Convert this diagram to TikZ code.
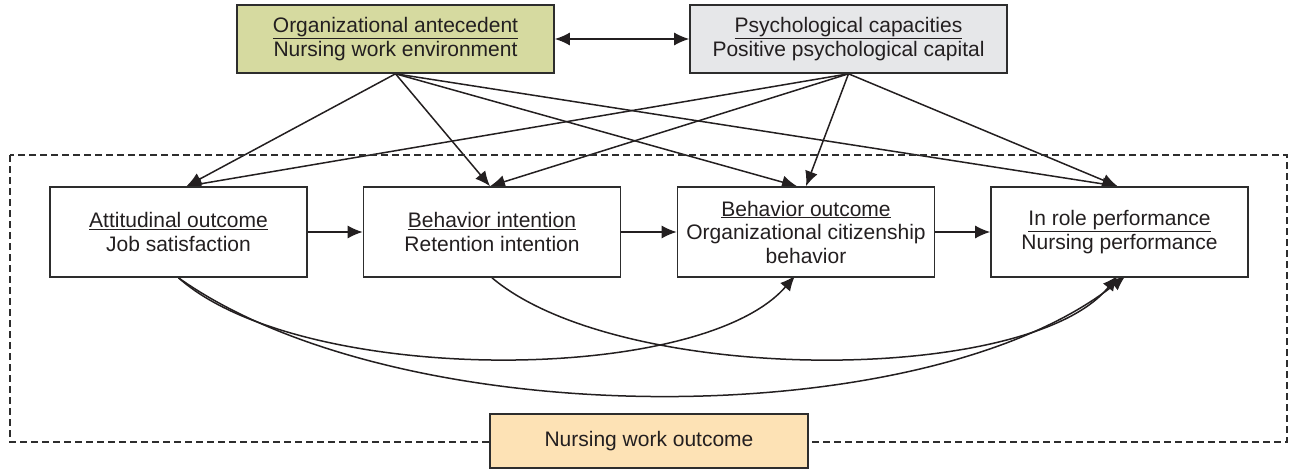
\documentclass[tikz,border=0pt]{standalone}
\usepackage{fontspec}
\setmainfont{Liberation Sans}
\usetikzlibrary{arrows.meta,calc}
\definecolor{txt}{RGB}{35,31,32}
\definecolor{edge}{RGB}{45,45,45}
\definecolor{olivefill}{RGB}{214,218,160}
\definecolor{grayfill}{RGB}{230,231,233}
\definecolor{peachfill}{RGB}{253,226,181}
\pgfdeclarelayer{bg}
\pgfsetlayers{bg,main}
\newcommand{\ul}[1]{\underline{#1}}
\tikzset{
  box/.style={draw=edge, line width=1.6pt, fill=white, inner sep=0pt, align=center,
    text=txt, font=\fontsize{21}{23.5}\selectfont},
  midbox/.style={box, minimum width=257pt, minimum height=90pt},
  topbox/.style={box, minimum width=317pt, minimum height=68pt},
  arr/.style={draw=txt, line width=1.5pt, -{Latex[length=15pt,width=13pt]}},
  darr/.style={draw=txt, line width=1.5pt, {Latex[length=15pt,width=13pt]}-{Latex[length=15pt,width=13pt]}},
  dashbox/.style={draw=edge, line width=1.3pt, dash pattern=on 7pt off 4pt}
}
\begin{document}
\begin{tikzpicture}[x=1pt,y=-1pt]
\useasboundingbox (0,0) rectangle (1289,468);
\draw[dashbox] (10,155) rectangle (1287,442);
\node[topbox, fill=olivefill] (G) at (395.5,39) {\ul{Organizational antecedent}\\Nursing work environment};
\node[topbox, fill=grayfill] (P) at (848.5,39) {\ul{Psychological capacities}\\Positive psychological capital};
\node[midbox] (A) at (178.5,232) {\ul{Attitudinal outcome}\\Job satisfaction};
\node[midbox] (B) at (492,232) {\ul{Behavior intention}\\Retention intention};
\node[midbox] (C) at (806,232) {\ul{Behavior outcome}\\Organizational citizenship\\behavior};
\node[midbox] (D) at (1119.5,232) {\ul{In role performance}\\Nursing performance};
\node[box, fill=peachfill, minimum width=318pt, minimum height=54pt] (N) at (649,441) {Nursing work outcome};
\begin{pgfonlayer}{bg}
\draw[darr] (G.east) -- (P.west);
\draw[arr] (G.south) -- ([xshift=8pt]A.north);
\draw[arr] (G.south) -- ([xshift=-2pt]B.north);
\draw[arr] (G.south) -- ([xshift=-9pt]C.north);
\draw[arr] (G.south) -- ([xshift=-2pt]D.north);
\draw[arr] (P.south) -- ([xshift=8pt]A.north);
\draw[arr] (P.south) -- ([xshift=-2pt]B.north);
\draw[arr] (P.south) -- (C.north);
\draw[arr] (P.south) -- ([xshift=-2pt]D.north);
\draw[arr] (A.east) -- (B.west);
\draw[arr] (B.east) -- (C.west);
\draw[arr] (C.east) -- (D.west);
\draw[arr] (A.south) .. controls (300,386) and (700,386) .. ([shift={(-11pt,2pt)}]C.south);
\draw[arr] (A.south) .. controls (400,435) and (925,435) .. ([shift={(6pt,2pt)}]D.south);
\draw[arr] (B.south) .. controls (620,386) and (1029,386) .. ([shift={(-2pt,2pt)}]D.south);
\end{pgfonlayer}
\end{tikzpicture}
\end{document}
